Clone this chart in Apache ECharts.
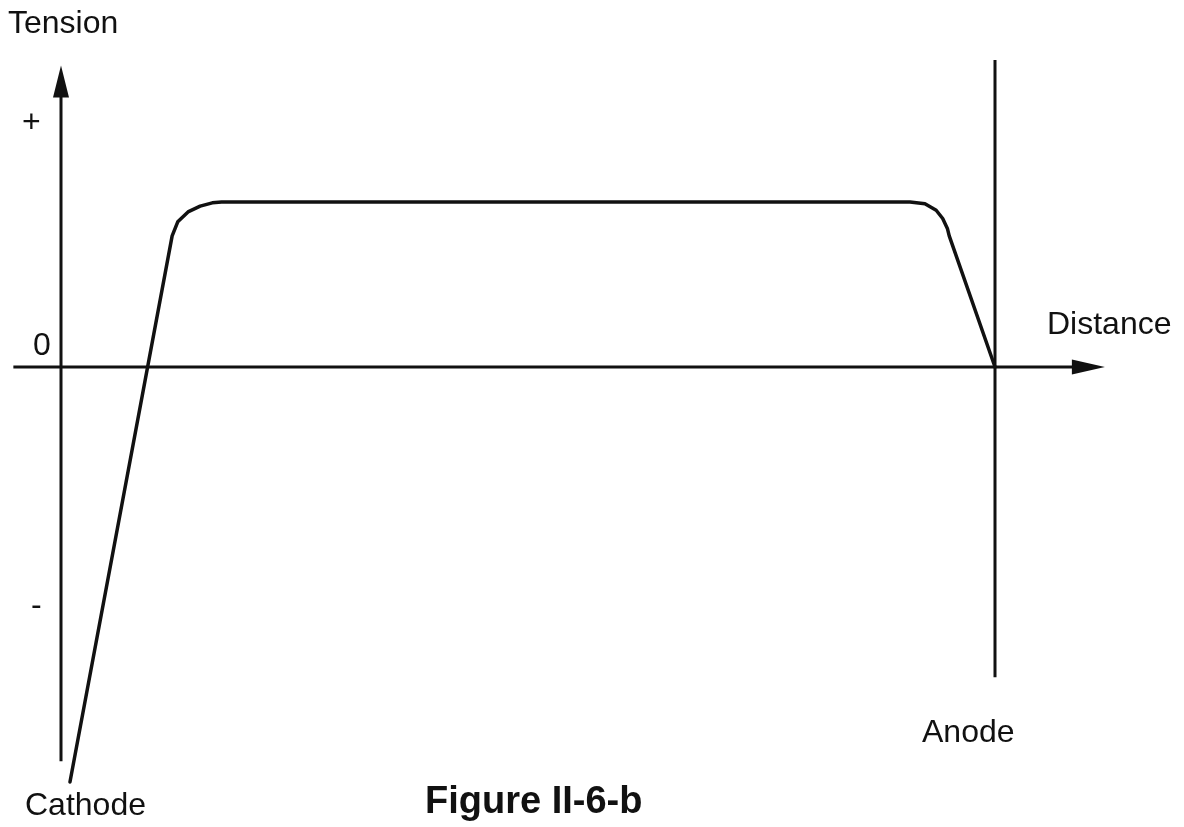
<!DOCTYPE html>
<html>
<head>
<meta charset="utf-8">
<script src="https://cdn.jsdelivr.net/npm/echarts@6/dist/echarts.min.js"></script>
<style>html,body{margin:0;padding:0;background:#fff;}#c{width:1184px;height:827px;}</style>
</head>
<body>
<div id="c"></div>
<script>
// Curve of tension vs distance (cathode at x=0, anode at x=100, plateau at y=10)
const curveX = [0.96, 11.9, 12.5, 13.6, 14.9, 16.2, 17.2, 90.9, 92.5, 93.7, 94.4, 94.9, 95.1, 100];
const curveY = [-25.15, 7.95, 8.8, 9.4, 9.75, 9.95, 10, 10, 9.9, 9.5, 9.0, 8.4, 7.95, 0];
// Axis extents
const yAxisLineY = [-23.9, 17.3];     // vertical axis shaft (x = 0), arrow at top
const xAxisLineX = [-5.1, 110.0];     // horizontal axis shaft (y = 0), arrow at right
const anodeX = 100;
const anodeLineY = [18.6, -18.8];
// Texts
const tickLabels = ['+', '0', '-'];
const axisTitles = ['Tension', 'Distance'];
const electrodeLabels = ['Cathode', 'Anode'];
const figureTitle = 'Figure II-6-b';

const ink = '#111';
const chart = echarts.init(document.getElementById('c'), null, {renderer: 'canvas'});

const curveData = curveX.map((x, i) => [x, curveY[i]]);
const yAxisData = [
  {value: [0, yAxisLineY[0]]},
  {value: [0, yAxisLineY[1]], symbol: 'triangle', symbolSize: [16, 32]}
];
const xAxisData = [
  {value: [xAxisLineX[0], 0]},
  {value: [xAxisLineX[1], 0], symbol: 'triangle', symbolSize: [15, 33], symbolRotate: -90}
];
const anodeData = anodeLineY.map(y => [anodeX, y]);

const font = '"Liberation Sans", Arial, sans-serif';
function txt(s, x, y, size, weight, align) {
  return {type: 'text', x: x, y: y, style: {text: s, fill: ink, font: (weight || 'normal') + ' ' + size + 'px ' + font, textAlign: align || 'left', textVerticalAlign: 'middle'}};
}

chart.setOption({
  animation: false,
  backgroundColor: '#fff',
  grid: {left: 14.3, top: 53.5, width: 1092.78, height: 742.5, containLabel: false},
  xAxis: {type: 'value', min: -5, max: 112, show: false},
  yAxis: {type: 'value', min: -26, max: 19, show: false},
  series: [
    {type: 'line', data: yAxisData, symbol: 'none', clip: false,
     itemStyle: {color: ink}, lineStyle: {color: ink, width: 3}},
    {type: 'line', data: xAxisData, symbol: 'none', clip: false,
     itemStyle: {color: ink}, lineStyle: {color: ink, width: 3}},
    {type: 'line', data: anodeData, symbol: 'none', clip: false,
     lineStyle: {color: ink, width: 3}},
    {type: 'line', data: curveData, symbol: 'none', clip: false, smooth: false,
     lineStyle: {color: ink, width: 3.5, join: 'round', cap: 'round'}}
  ],
  graphic: [
    txt(axisTitles[0], 8, 24, 32),
    txt(tickLabels[0], 22, 123, 32),
    txt(tickLabels[1], 33, 346, 32),
    txt(tickLabels[2], 31, 606, 32),
    txt(axisTitles[1], 1047, 325, 32),
    txt(electrodeLabels[1], 922, 733, 32),
    txt(electrodeLabels[0], 25, 806, 32),
    txt(figureTitle, 425, 803, 38, 'bold')
  ]
});
</script>
</body>
</html>
